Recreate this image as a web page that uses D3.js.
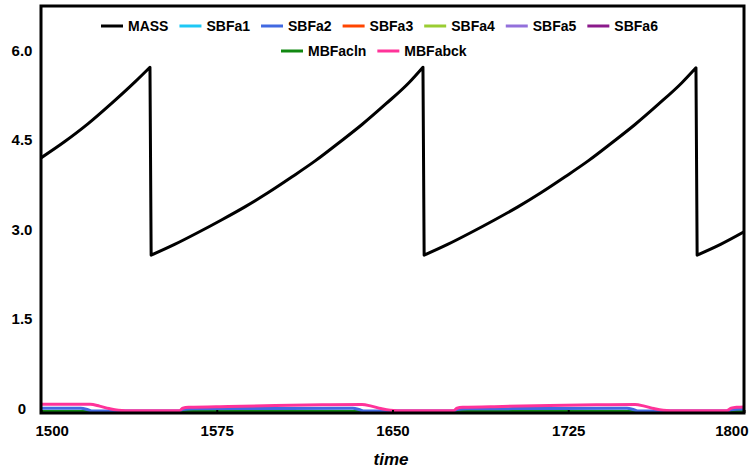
<!DOCTYPE html>
<html>
<head>
<meta charset="utf-8">
<script src="https://cdn.jsdelivr.net/npm/d3@7/dist/d3.min.js"></script>
<style>
  html, body { margin: 0; padding: 0; background: #fff; }
  svg text { font-family: "Liberation Sans", Arial, sans-serif; font-weight: bold; }
</style>
</head>
<body>
<svg id="chart" width="751" height="473"></svg>
<script>
// Series names and colours, in legend order
const seriesNames = ["MASS", "SBFa1", "SBFa2", "SBFa3", "SBFa4", "SBFa5", "SBFa6", "MBFacln", "MBFabck"];
const seriesColors = ["#000000", "#1ec8f5", "#4169e1", "#ff4500", "#9acd32", "#9370db", "#8b1a8b", "#118811", "#ff3399"];

// Axis ticks
const xTicks = [1500, 1575, 1650, 1725, 1800];
const yTicks = [0, 1.5, 3.0, 4.5, 6.0];
const yTickLabels = ["0", "1.5", "3.0", "4.5", "6.0"];

// Simulation output: [time, value]; MASS grows between harvests and drops at each one
const massValues = [
  [1500, 4.25], [1510, 4.52], [1520, 4.82], [1530, 5.16], [1540, 5.52], [1546.5, 5.77],
  [1547, 2.62], [1557, 2.80], [1567, 3.00], [1577, 3.21], [1587, 3.43], [1597, 3.67],
  [1607, 3.93], [1617, 4.20], [1627, 4.50], [1637, 4.81], [1647, 5.15], [1657, 5.51], [1663, 5.77],
  [1663.5, 2.62], [1673.5, 2.80], [1683.5, 3.00], [1693.5, 3.21], [1703.5, 3.43], [1713.5, 3.67],
  [1723.5, 3.93], [1733.5, 4.20], [1743.5, 4.50], [1753.5, 4.81], [1763.5, 5.15], [1773.5, 5.51], [1779.5, 5.76],
  [1780, 2.62], [1790, 2.80], [1800, 3.01]
];
const sbfa1Values = [[1500, 0], [1800, 0]];
const sbfa2Values = [
  [1500, 0.054], [1517, 0.054], [1520, 0.03], [1522, 0.008], [1559, 0.008], [1560.5, 0.035],
  [1565, 0.045], [1600, 0.05], [1633, 0.054], [1636, 0.03], [1638, 0.008], [1676, 0.008],
  [1677.5, 0.035], [1682, 0.045], [1717, 0.05], [1750, 0.054], [1753, 0.03], [1755, 0.008],
  [1793, 0.008], [1794.5, 0.03], [1800, 0.04]
];
const sbfa3Values = [[1500, 0], [1800, 0]];
const sbfa4Values = [[1500, 0], [1800, 0]];
const sbfa5Values = [[1500, 0], [1793, 0], [1796, 0.02], [1800, 0.025]];
const sbfa6Values = [[1500, 0], [1800, 0]];
const mbfaclnValues = [[1500, 0], [1794, 0], [1797, 0.01], [1800, 0.012]];
const mbfabckValues = [
  [1500, 0.12], [1510, 0.12], [1521, 0.12], [1525, 0.09], [1529, 0.05], [1533, 0.02], [1536, 0.013],
  [1559, 0.013], [1560.5, 0.055], [1563, 0.07], [1580, 0.085], [1600, 0.10], [1620, 0.112], [1637, 0.118],
  [1641, 0.09], [1645, 0.05], [1649, 0.02], [1652, 0.013], [1676, 0.013], [1677.5, 0.055], [1680, 0.07],
  [1697, 0.085], [1717, 0.10], [1737, 0.112], [1753.5, 0.118], [1757.5, 0.09], [1761.5, 0.05],
  [1765.5, 0.02], [1768.5, 0.013], [1792.5, 0.013], [1794.5, 0.055], [1797, 0.07], [1800, 0.075]
];

const seriesValues = [massValues, sbfa1Values, sbfa2Values, sbfa3Values, sbfa4Values,
                      sbfa5Values, sbfa6Values, mbfaclnValues, mbfabckValues];
// Drawing order (back to front)
const drawOrder = [1, 3, 4, 6, 5, 7, 2, 8, 0];

const svg = d3.select("#chart");
const plot = { left: 41, right: 744, top: 6, bottom: 413 };

const x = d3.scaleLinear().domain([1500, 1800]).range([plot.left, plot.right]);
const y = d3.scaleLinear().domain([-0.025, 6.796]).range([plot.bottom, plot.top]);

const smooth = d3.line()
  .x(d => x(d[0]))
  .y(d => y(d[1]))
  .curve(d3.curveMonotoneX);

// Split a series wherever it falls sharply, smooth each piece,
// and join the pieces with straight drops.
function pathWithDrops(values) {
  const pieces = [];
  let cur = [values[0]];
  for (let i = 1; i < values.length; i++) {
    const dropped = values[i][1] < values[i - 1][1] - 1 && values[i][0] - values[i - 1][0] < 2;
    if (dropped) { pieces.push(cur); cur = []; }
    cur.push(values[i]);
  }
  pieces.push(cur);
  return pieces.map((p, k) => {
    const d = p.length > 1 ? smooth(p) : `M${x(p[0][0])},${y(p[0][1])}`;
    return k === 0 ? d : "L" + d.slice(1);
  }).join("");
}

svg.append("defs").append("clipPath").attr("id", "clip")
  .append("rect")
  .attr("x", plot.left).attr("y", plot.top)
  .attr("width", plot.right - plot.left).attr("height", plot.bottom - plot.top);

const lines = svg.append("g").attr("clip-path", "url(#clip)");
drawOrder.forEach(i => {
  lines.append("path")
    .attr("fill", "none")
    .attr("stroke", seriesColors[i])
    .attr("stroke-width", 3)
    .attr("stroke-linejoin", "round")
    .attr("d", pathWithDrops(seriesValues[i]));
});

// X axis: short inner ticks, labels below
const xAxis = d3.axisBottom(x).tickValues(xTicks).tickSize(-3).tickPadding(12)
  .tickFormat(d3.format("d"));
const gx = svg.append("g").attr("transform", `translate(0,${plot.bottom})`).call(xAxis);
gx.select(".domain").remove();
gx.selectAll("line").attr("stroke", "#000").attr("stroke-width", 2);
gx.selectAll("text")
  .attr("font-size", 15).attr("fill", "#000")
  .attr("font-family", "Liberation Sans, Arial, sans-serif").attr("font-weight", "bold")
  .attr("text-anchor", (d, i) => i === 0 ? "start" : (i === xTicks.length - 1 ? "end" : "middle"))
  .attr("dx", (d, i) => i === 0 ? -6 : (i === xTicks.length - 1 ? 4 : 0));

// Y axis labels
const yAxis = d3.axisLeft(y).tickValues(yTicks).tickSize(0).tickPadding(0)
  .tickFormat((d, i) => yTickLabels[i]);
const gy = svg.append("g").attr("transform", `translate(22,0)`).call(yAxis);
gy.select(".domain").remove();
gy.selectAll("text")
  .attr("font-size", 15).attr("fill", "#000")
  .attr("font-family", "Liberation Sans, Arial, sans-serif").attr("font-weight", "bold")
  .attr("text-anchor", "middle").attr("dy", "0.32em")
  .attr("transform", "translate(0,-3)");

// Frame
svg.append("rect")
  .attr("x", plot.left).attr("y", plot.top)
  .attr("width", plot.right - plot.left).attr("height", plot.bottom - plot.top)
  .attr("fill", "none").attr("stroke", "#000").attr("stroke-width", 3);

// X axis title
svg.append("text")
  .attr("x", 391).attr("y", 465)
  .attr("text-anchor", "middle")
  .attr("font-size", 17).attr("font-style", "italic")
  .text("time");

// Legend: two rows
const legendRows = [[0, 1, 2, 3, 4, 5, 6], [7, 8]];
const rowY = [26, 51];
const rowX = [101, 281];
const swatch = 22, gapText = 5, gapItem = 11, legendFont = 14;
const legend = svg.append("g");
legendRows.forEach((row, r) => {
  let cx = rowX[r];
  row.forEach(i => {
    legend.append("line")
      .attr("x1", cx).attr("x2", cx + swatch)
      .attr("y1", rowY[r]).attr("y2", rowY[r])
      .attr("stroke", seriesColors[i]).attr("stroke-width", 3);
    const t = legend.append("text")
      .attr("x", cx + swatch + gapText).attr("y", rowY[r])
      .attr("dy", "0.35em")
      .attr("font-size", legendFont)
      .text(seriesNames[i]);
    cx += swatch + gapText + t.node().getComputedTextLength() + gapItem;
  });
});
</script>
</body>
</html>
